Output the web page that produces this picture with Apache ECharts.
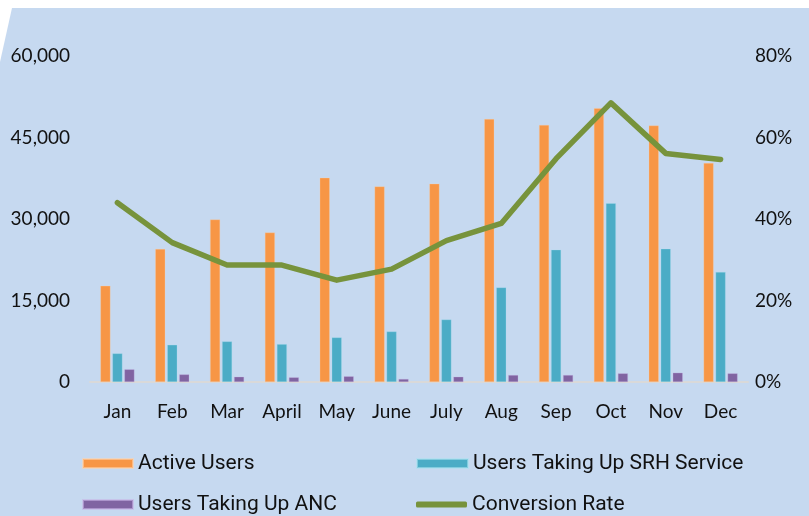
<!DOCTYPE html>
<html><head><meta charset="utf-8">
<script src="https://cdn.jsdelivr.net/npm/echarts@6/dist/echarts.min.js"></script>
<style>html,body{margin:0;padding:0;background:#fff}#c{width:809px;height:516px}</style>
</head><body><div id="c"></div>
<script>
const categories = ['Jan','Feb','Mar','April','May','June','July','Aug','Sep','Oct','Nov','Dec'];
const activeUsers = [17700, 24500, 29900, 27500, 37600, 36000, 36500, 48400, 47300, 50400, 47200, 40300];
const srhUsers = [5260, 6850, 7470, 6970, 8200, 9300, 11500, 17400, 24350, 32900, 24530, 20240];
const ancUsers = [2330, 1400, 970, 860, 1050, 550, 970, 1280, 1280, 1590, 1710, 1590];
const conversionRate = [44.0, 34.2, 28.7, 28.7, 25.0, 27.7, 34.7, 38.9, 54.8, 68.5, 56.1, 54.6];
const leftTicks = {min: 0, max: 60000, interval: 15000};
const rightTicks = {min: 0, max: 80, interval: 20};

const chart = echarts.init(document.getElementById('c'), null, {renderer: 'canvas'});
const legendText = {fontFamily: 'Roboto, sans-serif', fontSize: 21, color: '#111', padding: [0,0,0,0]};
const axisFont = {fontFamily: 'Lato', fontSize: 19, color: '#111'};
chart.setOption({
  animation: false,
  backgroundColor: '#ffffff',
  graphic: [{
    type: 'polygon', z: -10, silent: true,
    shape: {points: [[12,8],[809,8],[809,516],[0,516],[0,62]]},
    style: {fill: '#C6D9F0'}
  }],
  grid: {left: 90, right: 61, top: 56, bottom: 134},
  legend: [
    {left: 82, top: 453, padding: 0, itemWidth: 50, itemHeight: 9, textStyle: legendText, data: [{name: 'Active Users', icon: 'rect'}]},
    {left: 416, top: 453, padding: 0, itemWidth: 51, itemHeight: 9, textStyle: legendText, data: [{name: 'Users Taking Up SRH Service', icon: 'rect'}]},
    {left: 82, top: 494, padding: 0, itemWidth: 50, itemHeight: 9, textStyle: legendText, data: [{name: 'Users Taking Up ANC', icon: 'rect'}]},
    {left: 416, top: 494, padding: 0, itemWidth: 51, itemHeight: 6, textStyle: legendText, data: [{name: 'Conversion Rate', icon: 'roundRect'}]}
  ],
  xAxis: {
    type: 'category', data: categories,
    axisLine: {lineStyle: {color: '#D9D9D9', width: 2}},
    axisTick: {show: false},
    axisLabel: Object.assign({margin: 20}, axisFont)
  },
  yAxis: [
    {type: 'value', min: leftTicks.min, max: leftTicks.max, interval: leftTicks.interval,
     splitLine: {show: false}, axisLine: {show: false}, axisTick: {show: false},
     axisLabel: Object.assign({margin: 20, formatter: v => v.toLocaleString('en-US')}, axisFont)},
    {type: 'value', min: rightTicks.min, max: rightTicks.max, interval: rightTicks.interval, position: 'right',
     splitLine: {show: false}, axisLine: {show: false}, axisTick: {show: false},
     axisLabel: Object.assign({margin: 7, formatter: '{value}%'}, axisFont)}
  ],
  series: [
    {name: 'Active Users', type: 'bar', data: activeUsers, barWidth: 10, barGap: '20%',
     itemStyle: {color: '#F79646', borderColor: 'rgba(255,210,170,0.6)', borderWidth: 0.5}},
    {name: 'Users Taking Up SRH Service', type: 'bar', data: srhUsers, barWidth: 10, barGap: '20%',
     itemStyle: {color: '#4BACC6', borderColor: 'rgba(170,225,240,0.6)', borderWidth: 0.5}},
    {name: 'Users Taking Up ANC', type: 'bar', data: ancUsers, barWidth: 10, barGap: '20%',
     itemStyle: {color: '#8064A2', borderColor: 'rgba(200,180,230,0.6)', borderWidth: 0.5}},
    {name: 'Conversion Rate', type: 'line', yAxisIndex: 1, data: conversionRate,
     symbol: 'none', lineStyle: {color: '#77933C', width: 5.5, cap: 'round', join: 'round'},
     itemStyle: {color: '#77933C'}, z: 5}
  ]
});
</script></body></html>
